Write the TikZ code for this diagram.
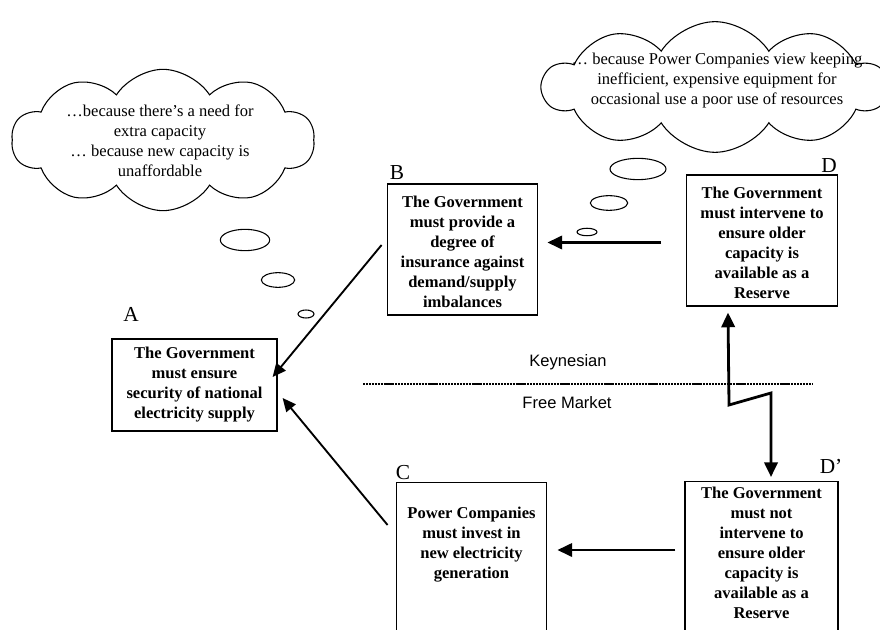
\documentclass[tikz,border=0pt]{standalone}
\usepackage{fontspec}
\setmainfont{Liberation Serif}
\newfontfamily\arialfont{Liberation Sans}
\usetikzlibrary{arrows.meta, positioning, shapes.symbols}
\tikzset{
  stage/.style={draw, line width=0.9pt, minimum width=113pt, inner sep=0pt},
  stagetext/.style={align=center, font=\bfseries\fontsize{12.4}{15}\selectfont, inner sep=0pt},
  tag/.style={font=\fontsize{16}{18}\selectfont, inner sep=0pt},
  side/.style={font=\arialfont\fontsize{12.4}{15}\selectfont, inner sep=0pt},
  thought/.style={cloud, cloud puffs=10, cloud puff arc=115, cloud ignores aspect, draw, line width=0.8pt, inner sep=0pt},
  thoughttext/.style={align=center, font=\fontsize{12.4}{15}\selectfont, inner sep=0pt},
  flow/.style={-{Triangle[length=11pt,width=10pt]}, line width=1.9pt},
  slant/.style={-{Triangle[length=10pt,width=9pt]}, line width=1.4pt},
  swing/.style={{Triangle[length=11pt,width=10pt]}-{Triangle[length=11pt,width=10pt]}, line width=2.1pt},
  divide/.style={line width=1.7pt, dash pattern=on 1.6pt off 0.6pt},
}
\begin{document}
\begin{tikzpicture}[x=0.75pt, y=-0.75pt]
    \useasboundingbox (0,0) rectangle (880,630);
    \clip (0,0) rectangle (880,630);
    % thought clouds
    \node[thought, minimum width=227pt, minimum height=106pt] (need) at (163,140) {};
    \node[thoughttext] (needtext) at (160,140.5) {\dots because there’s a need for\\extra capacity\\\dots\ because new capacity is\\unaffordable};
    \draw[line width=0.8pt] (245,240) ellipse [x radius=18.5pt, y radius=8pt];
    \draw[line width=0.8pt] (278,280) ellipse [x radius=12.5pt, y radius=5.5pt];
    \draw[line width=0.8pt] (306,314) ellipse [x radius=6pt, y radius=3pt];
    \node[thought, minimum width=258pt, minimum height=98pt] (waste) at (715,87) {};
    \node[thoughttext] (wastetext) at (717,81) {\dots\ because Power Companies view keeping\\inefficient, expensive equipment for\\occasional use a poor use of resources};
    \draw[line width=0.8pt] (638,169) ellipse [x radius=21pt, y radius=8pt];
    \draw[line width=0.8pt] (609,203) ellipse [x radius=14pt, y radius=5.5pt];
    \draw[line width=0.8pt] (587,232) ellipse [x radius=7.5pt, y radius=2.8pt];
    % positions
    \node[stage, minimum width=123.75pt, minimum height=69pt] (A) at (194.5,385) {};
    \node[stagetext] (Atext) at (A.center) {The Government\\must ensure\\security of national\\electricity supply};
    \node[stage, minimum height=98.25pt] (B) at (462.5,249.5) {};
    \node[stagetext] (Btext) at ([yshift=-2]B.center) {The Government\\must provide a\\degree of\\insurance against\\demand/supply\\imbalances};
    \node[stage, minimum height=98.25pt] (D) at (762,240.5) {};
    \node[stagetext] (Dtext) at ([yshift=-2]D.center) {The Government\\must intervene to\\ensure older\\capacity is\\available as a\\Reserve};
    \node[stage, minimum height=122pt, anchor=north] (C) at (471.5,482) {};
    \node[stagetext, anchor=north, below=18.6pt of C.north] (Ctext) {Power Companies\\must invest in\\new electricity\\generation};
    \node[stage, minimum width=114.75pt, minimum height=122pt, anchor=north] (Dp) at (761.5,481) {};
    \node[stagetext, anchor=north, below=4.3pt of Dp.north] (Dptext) {The Government\\must not\\intervene to\\ensure older\\capacity is\\available as a\\Reserve};
    \node[tag] (tagA) at (131,314) {A};
    \node[tag] (tagB) at (397,173) {B};
    \node[tag] (tagC) at (403,473) {C};
    \node[tag] (tagD) at (829,166) {D};
    \node[tag] (tagDp) at (831,466) {D’};
    % divide
    \draw[divide] (363,384) -- (813,384);
    \node[side] (keyn) at (568,362) {Keynesian};
    \node[side] (free) at (567,403) {Free Market};
    % arrows
    \draw[slant] ([shift={(-5,-4.5)}]B.west) -- ([shift={(-5,-8)}]A.east);
    \draw[slant] ([shift={(-8,43)}]C.north west) -- ([shift={(5,13)}]A.east);
    \draw[flow] ([shift={(-25,2)}]D.west) -- ([shift={(9,-7)}]B.east);
    \draw[flow] ([shift={(-9,69)}]Dp.north west) -- ([shift={(10,68)}]C.north east);
    \coordinate (zigA) at (729,405);
    \coordinate (zigB) at (771,393);
    \draw[swing] ([shift={(-34,6)}]D.south) -- (zigA) -- (zigB) -- ([shift={(9.5,-4)}]Dp.north);
  \end{tikzpicture}
\end{document}
